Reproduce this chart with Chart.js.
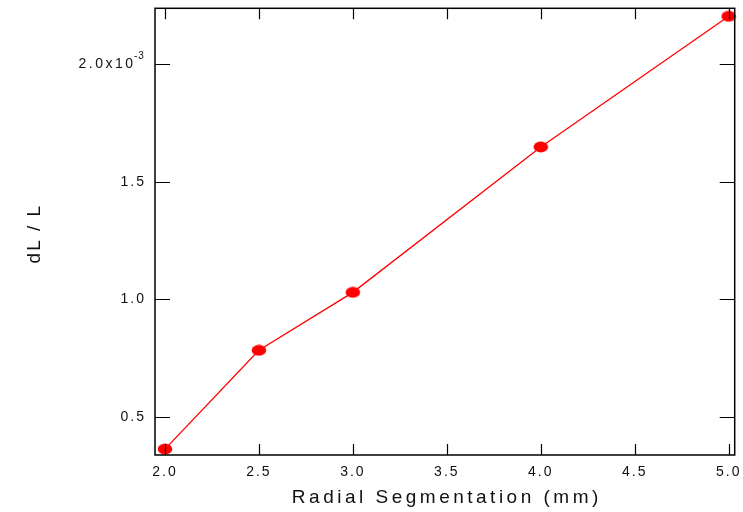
<!DOCTYPE html>
<html>
<head>
<meta charset="utf-8">
<script src="https://cdn.jsdelivr.net/npm/chart.js@4"></script>
<style>
  html,body{margin:0;padding:0;background:#fff;}
  #wrap{width:743px;height:512px;}
</style>
</head>
<body>
<div id="wrap"><canvas id="c" width="743" height="512"></canvas></div>
<script>
// values (dL/L in units of 1e-3)
const segmentation = [2.0, 2.5, 3.0, 4.0, 5.0];
const dLoverL = [0.364, 0.784, 1.03, 1.648, 2.203];
const xTicks = [2.0, 2.5, 3.0, 3.5, 4.0, 4.5, 5.0];
const yTicks = [0.5, 1.0, 1.5, 2.0];
const xTitle = 'Radial Segmentation (mm)';
const yTitle = 'dL / L';

const FONT = 'Arial, "Liberation Sans", sans-serif';
const INK = '#111';

// slightly flattened red marker, like the original plot
const marker = document.createElement('canvas');
marker.width = 16; marker.height = 12;
(() => {
  const m = marker.getContext('2d');
  m.fillStyle = '#ff0000';
  m.beginPath(); m.ellipse(8, 6, 7.3, 5.4, 0, 0, Math.PI * 2); m.fill();
})();

// frame, inward ticks on all four sides, axis titles and the 2.0x10^-3 label
const frame = {
  id:'frame',
  beforeDraw(chart){ chart.ctx.letterSpacing = '2px'; },
  afterDraw(chart){
    const {ctx, chartArea:a, scales:{x, y}} = chart;
    ctx.save();
    ctx.letterSpacing = '0px';
    ctx.strokeStyle = '#000'; ctx.lineWidth = 1.5;
    ctx.strokeRect(a.left, a.top, a.right - a.left, a.bottom - a.top);
    ctx.lineWidth = 1.2;
    ctx.beginPath();
    xTicks.forEach(v=>{
      const px = Math.round(x.getPixelForValue(v)) + 0.5;
      ctx.moveTo(px, a.bottom); ctx.lineTo(px, a.bottom - 11);
      ctx.moveTo(px, a.top); ctx.lineTo(px, a.top + 11);
    });
    yTicks.forEach(v=>{
      const py = Math.round(y.getPixelForValue(v)) + 0.5;
      ctx.moveTo(a.left, py); ctx.lineTo(a.left + 15, py);
      ctx.moveTo(a.right, py); ctx.lineTo(a.right - 15, py);
    });
    ctx.stroke();

    ctx.fillStyle = INK;
    // top y label with superscript
    const py = y.getPixelForValue(2.0);
    ctx.textBaseline = 'middle'; ctx.textAlign = 'left';
    ctx.letterSpacing = '2.5px';
    ctx.font = '14px ' + FONT;
    const w = ctx.measureText('2.0x10').width;
    ctx.fillText('2.0x10', 133 - w + 2.5, py);
    ctx.font = '10px ' + FONT;
    ctx.letterSpacing = '1px';
    ctx.fillText('-3', 134, py - 8);

    // axis titles
    ctx.font = '19px ' + FONT;
    ctx.textAlign = 'center';
    ctx.letterSpacing = '3.5px';
    ctx.fillText(xTitle, (a.left + a.right) / 2 + 2, 498);
    ctx.letterSpacing = '2px';
    ctx.translate(35, (a.top + a.bottom) / 2 + 2);
    ctx.rotate(-Math.PI / 2);
    ctx.fillText(yTitle, 0, 0);
    ctx.restore();
  }
};

new Chart(document.getElementById('c'), {
  type:'line',
  data:{ datasets:[{
    data: segmentation.map((s,i)=>({x:s, y:dLoverL[i]})),
    borderColor:'#ff0000', borderWidth:1.3,
    backgroundColor:'#ff0000',
    pointStyle: marker, pointRadius:7, tension:0, clip:false
  }]},
  options:{
    responsive:false, animation:false, devicePixelRatio:1,
    layout:{ padding:{ top:7, right:5, left:0, bottom:0 } },
    plugins:{ legend:{display:false}, tooltip:{enabled:false} },
    scales:{
      x:{
        type:'linear', min:1.947, max:5.032,
        afterBuildTicks: s => { s.ticks = xTicks.map(v=>({value:v})); },
        afterFit: s => { s.height = 57; s.paddingLeft = 0; s.paddingRight = 0; },
        grid:{ display:false }, border:{ display:false },
        ticks:{ color:INK, font:{ family:FONT, size:14 }, padding:1, maxRotation:0,
                callback: v => v.toFixed(1) },
        title:{ display:false }
      },
      y:{
        type:'linear', min:0.339, max:2.237,
        afterBuildTicks: s => { s.ticks = yTicks.map(v=>({value:v})); },
        afterFit: s => { s.width = 155; s.paddingTop = 0; s.paddingBottom = 0; },
        grid:{ display:false }, border:{ display:false },
        ticks:{ color:INK, font:{ family:FONT, size:14 }, padding:1,
                callback: v => v === 2 ? '' : v.toFixed(1) },
        title:{ display:false }
      }
    }
  },
  plugins:[frame]
});
</script>
</body>
</html>
